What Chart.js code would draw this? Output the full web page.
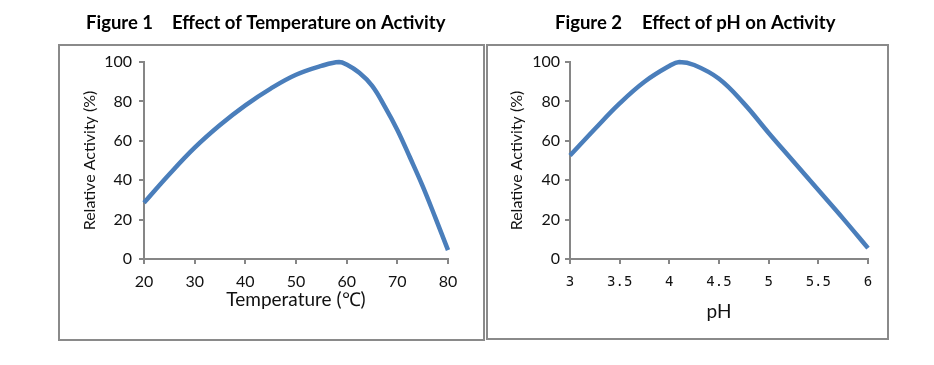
<!DOCTYPE html>
<html><head><meta charset="utf-8">
<script src="https://cdn.jsdelivr.net/npm/chart.js@4/dist/chart.umd.min.js"></script>
<style>
html,body{margin:0;padding:0;background:#fff;width:934px;height:365px;overflow:hidden;position:relative}
.box{position:absolute;border:2px solid #8a8a8a;box-sizing:border-box}
canvas{position:absolute;top:0}
</style></head><body>
<div class="box" style="left:58px;top:44px;width:427px;height:297px"></div>
<div class="box" style="left:486px;top:44px;width:403px;height:296px"></div>
<canvas id="c1" width="486" height="365" style="left:0px"></canvas>
<canvas id="c2" width="448" height="365" style="left:486px"></canvas>
<script>
// ---- data ----
const tempValues = [20, 25, 30, 35, 40, 45, 50, 55, 58.5, 60, 62.5, 65, 67.5, 70, 72.5, 75, 77.5, 80];
const tempActivity = [28.5, 43, 56.5, 68, 78, 86.5, 93.5, 98, 100, 98.7, 94.5, 88, 77.5, 65.5, 51.5, 37, 21, 4.5];
const phValues = [3, 3.25, 3.5, 3.75, 4, 4.1, 4.25, 4.5, 4.75, 5, 5.25, 5.5, 5.75, 6];
const phActivity = [52.5, 66, 79, 90, 98, 100, 98.5, 91.5, 79, 64, 49.5, 35, 20.5, 5.5];
const tempTicks = [20, 30, 40, 50, 60, 70, 80];
const phTicks = [3, 3.5, 4, 4.5, 5, 5.5, 6];
const phTickLabels = ['3', '3.5', '4', '4.5', '5', '5.5', '6'];
const yTicks = [0, 20, 40, 60, 80, 100];

const AXIS = '#868686';
const LINE = '#4a7ebb';

const titlePlugin = {
  id: 'figTitle',
  afterDraw(chart, args, opts) {
    const ctx = chart.ctx;
    ctx.save();
    ctx.font = 'bold 18.5px Lato';
    ctx.fillStyle = '#000';
    ctx.textBaseline = 'middle';
    ctx.textAlign = 'left';
    opts.parts.forEach(p => ctx.fillText(p.text, p.x, opts.y));
    ctx.restore();
  }
};

function makeChart(id, cfg) {
  const pts = cfg.xs.map((x, i) => ({ x: x, y: cfg.ys[i] }));
  return new Chart(document.getElementById(id), {
    type: 'line',
    data: { datasets: [{ data: pts, borderColor: LINE, borderWidth: 4.5, pointRadius: 0,
      tension: 0.4, fill: false, clip: 6 }] },
    plugins: [titlePlugin],
    options: {
      responsive: false, animation: false,
      layout: { padding: cfg.pad },
      plugins: { legend: { display: false }, tooltip: { enabled: false },
        figTitle: { parts: cfg.title, y: 23 } },
      scales: {
        x: {
          type: 'linear', min: cfg.xmin, max: cfg.xmax,
          afterBuildTicks: s => { s.ticks = cfg.xticks.map(v => ({ value: v })); },
          afterFit: s => { s.height = cfg.xh; },
          ticks: { font: cfg.xfont, color: '#111', padding: cfg.xtp, maxRotation: 0, autoSkip: false,
            callback: cfg.xcb },
          grid: { display: true, drawOnChartArea: false, drawTicks: true, tickLength: 5, color: AXIS, lineWidth: 2 },
          border: { display: true, color: AXIS, width: 2 },
          title: { display: true, text: cfg.xtitle, font: { family: 'Lato', size: 19 }, color: '#111',
            padding: { top: 0, bottom: cfg.xtpad } }
        },
        y: {
          min: 0, max: 100,
          afterBuildTicks: s => { s.ticks = yTicks.map(v => ({ value: v })); },
          afterFit: s => { s.width = cfg.yw; },
          ticks: { font: { family: 'Lato', size: 16 }, color: '#111', padding: cfg.ytp },
          grid: { display: true, drawOnChartArea: false, drawTicks: true, tickLength: 5, color: AXIS, lineWidth: 2 },
          border: { display: true, color: AXIS, width: 2 },
          title: { display: true, text: 'Relative Activity (%)', font: { family: 'Lato', size: 16 }, color: '#111',
            padding: { top: cfg.ytitlepad, bottom: 0 } }
        }
      }
    }
  });
}

makeChart('c1', {
  xs: tempValues, ys: tempActivity, xmin: 20, xmax: 80, xticks: tempTicks,
  xcb: v => String(v), xfont: { family: 'Lato', size: 16 }, xtp: 8,
  xtitle: 'Temperature (℃)', xh: 55, xtpad: 3,
  yw: 72, ytp: 7, ytitlepad: 8,
  pad: { left: 72, right: 38, top: 62, bottom: 51 },
  title: [{ text: 'Figure 1', x: 86 }, { text: 'Effect of Temperature on Activity', x: 172 }]
});

makeChart('c2', {
  xs: phValues, ys: phActivity, xmin: 3, xmax: 6, xticks: phTicks,
  xcb: (v, i) => phTickLabels[i], xfont: { family: 'DejaVu Sans Mono', size: 14 }, xtp: 10,
  xtitle: 'pH', xh: 70, xtpad: 6,
  yw: 65, ytp: 5, ytitlepad: 2,
  pad: { left: 19, right: 66, top: 62, bottom: 36 },
  title: [{ text: 'Figure 2', x: 555 - 486 }, { text: 'Effect of pH on Activity', x: 642 - 486 }]
});
</script>
</body></html>
